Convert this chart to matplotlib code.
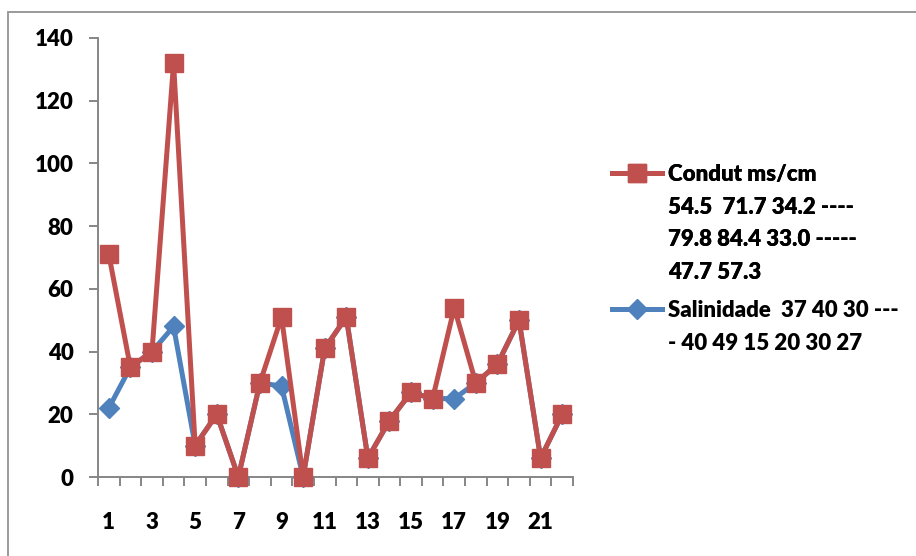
import matplotlib
matplotlib.use("Agg")
import matplotlib.pyplot as plt
from matplotlib.lines import Line2D
from matplotlib.patches import Rectangle
from matplotlib.ticker import MultipleLocator, FixedLocator

plt.rcParams['font.family'] = ['Lato', 'DejaVu Sans']
plt.rcParams['font.weight'] = 'heavy'

# Sample index (1..22)
samples = list(range(1, 23))

# Conductivity (ms/cm) and salinity per sample
condut = [71, 35, 40, 132, 10, 20, 0, 30, 51, 0, 41,
          51, 6, 18, 27, 25, 54, 30, 36, 50, 6, 20]
salinidade = [22, 35, 40, 48, 10, 20, 0, 30, 29, 0, 41,
              51, 6, 18, 27, 25, 25, 30, 36, 50, 6, 20]

x_tick_labels = [str(v) for v in range(1, 23, 2)]

condut_label = ["Condut ms/cm", "54.5  71.7 34.2 ----",
                "79.8 84.4 33.0 -----", "47.7 57.3"]
salinidade_label = ["Salinidade  37 40 30 ---", "- 40 49 15 20 30 27"]

RED = "#C0504D"
BLUE = "#4F81BD"
GREY = "#868686"
FS = 16
WEIGHT = "heavy"

W, H = 916, 556
fig = plt.figure(figsize=(W / 100, H / 100), dpi=100)
fig.patch.set_facecolor("white")

# outer chart frame
fig.patches.append(Rectangle((8 / W, -0.2), 1.5, 1.2 - 11.5 / H,
                             transform=fig.transFigure, fill=False,
                             edgecolor="#9a9a9a", linewidth=1.4))

ax = fig.add_axes([98 / W, 1 - 477 / H, (573 - 98) / W, (477 - 38) / H])

ax.plot(samples, salinidade, color=BLUE, linewidth=3.6, marker="D",
        markersize=10, markerfacecolor=BLUE, markeredgecolor=BLUE,
        solid_joinstyle="round", zorder=3, clip_on=False)
ax.plot(samples, condut, color=RED, linewidth=3.6, marker="s",
        markersize=13, markerfacecolor=RED, markeredgecolor=RED,
        solid_joinstyle="round", zorder=4, clip_on=False)

ax.set_xlim(0.5, 22.5)
ax.set_ylim(0, 140)

ax.yaxis.set_major_locator(MultipleLocator(20))
ax.xaxis.set_major_locator(FixedLocator(list(range(1, 23, 2))))
ax.set_xticklabels(x_tick_labels)
ax.xaxis.set_minor_locator(FixedLocator([i + 0.5 for i in range(0, 23)]))

ax.tick_params(axis="x", which="major", length=0, pad=25, labelsize=FS)
ax.tick_params(axis="x", which="minor", length=6.5, width=1.4,
               color=GREY, direction="out")
ax.tick_params(axis="y", which="major", length=6.5, width=1.4,
               color=GREY, direction="out", pad=11, labelsize=FS)
for lab in ax.get_xticklabels() + ax.get_yticklabels():
    lab.set_fontweight(WEIGHT)

for side in ("top", "right"):
    ax.spines[side].set_visible(False)
for side in ("left", "bottom"):
    ax.spines[side].set_color(GREY)
    ax.spines[side].set_linewidth(1.4)

blank = Line2D([], [], color="none")
h_red = Line2D([], [], color=RED, linewidth=3.6, marker="s", markersize=13,
               markerfacecolor=RED, markeredgecolor=RED)
h_blue = Line2D([], [], color=BLUE, linewidth=3.6, marker="D", markersize=10,
                markerfacecolor=BLUE, markeredgecolor=BLUE)

common = dict(frameon=False, loc="upper left", handlelength=2.27,
              handletextpad=0.27, borderpad=0, borderaxespad=0,
              labelspacing=0.52, prop={"size": FS, "weight": WEIGHT})

leg1 = fig.legend([h_red] + [blank] * 3, condut_label,
                  bbox_to_anchor=(612 / W, 1 - 164 / H), **common)
leg2 = fig.legend([h_blue, blank], salinidade_label,
                  bbox_to_anchor=(612 / W, 1 - 300 / H), **common)
fig.add_artist(leg1)

fig.savefig("out.png", dpi=100, facecolor="white")
